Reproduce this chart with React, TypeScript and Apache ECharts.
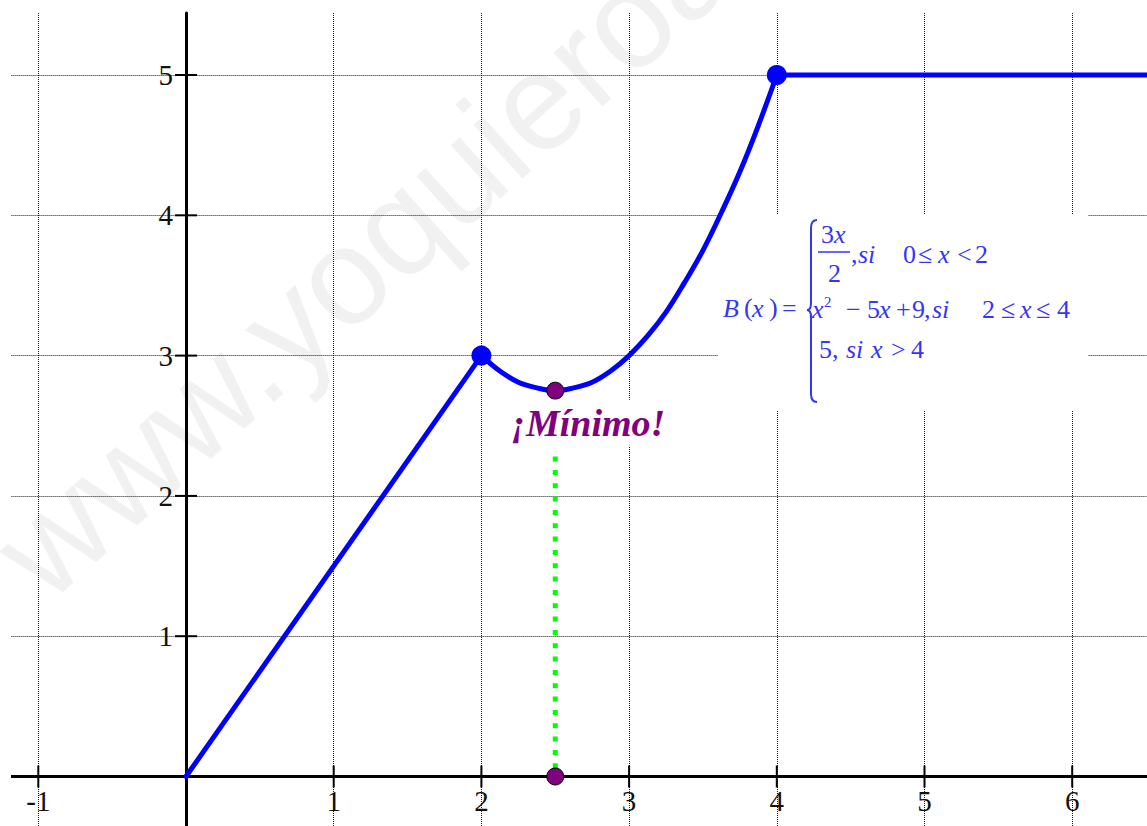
import React, { useEffect, useRef } from "react";
import * as echarts from "echarts";

// ---------- data ----------
const xTicks = [-1, 1, 2, 3, 4, 5, 6];
const yTicks = [1, 2, 3, 4, 5];
const xTickLabels = ["-1", "1", "2", "3", "4", "5", "6"];
const yTickLabels = ["1", "2", "3", "4", "5"];

// B(x), piece by piece
const linearPiece: number[][] = [
  [0, 0],
  [2, 3],
];
const quadraticPiece: number[][] = [
  [2, 3],
  [2.125, 2.89],
  [2.25, 2.81],
  [2.375, 2.77],
  [2.5, 2.75],
  [2.625, 2.77],
  [2.75, 2.81],
  [2.875, 2.89],
  [3, 3],
  [3.125, 3.14],
  [3.25, 3.31],
  [3.375, 3.52],
  [3.5, 3.75],
  [3.625, 4.02],
  [3.75, 4.31],
  [3.875, 4.64],
  [4, 5],
];
const constantPiece: number[][] = [
  [4, 5],
  [7, 5],
];
const closedDots: number[][] = [
  [2, 3],
  [4, 5],
];
const minimumPoints: number[][] = [
  [2.5, 2.75],
  [2.5, 0],
];
const minimumGuide: number[][] = [
  [2.5, 2.28],
  [2.5, 0],
];
const minimumLabel = "¡Mínimo!";
const watermarkText = "www.yoquieroaprobar.es";

// ---------- styling / layout ----------
const SERIF = "'Liberation Serif', 'Times New Roman', serif";
const SANS = "'Liberation Sans', Arial, sans-serif";
const FORMULA_BLUE = "#3535f5";
const CURVE_BLUE = "#0000ff";

// formula pieces: [text, left x, center y, kind]  (n = upright, i = italic, s = superscript)
const formulaPieces: [string, number, number, string][] = [
  ["B", 723, 308, "i"],
  ["(", 744, 307, "n"],
  ["x", 752, 308, "i"],
  [")", 769, 307, "n"],
  ["=", 782, 308, "n"],
  ["3", 821, 234, "n"],
  ["x", 834, 234, "i"],
  ["2", 828, 273, "n"],
  [",", 851, 254, "n"],
  ["si", 858, 254, "i"],
  ["0", 903, 254, "n"],
  ["≤", 918, 254, "n"],
  ["x", 938, 254, "i"],
  ["<", 957, 254, "n"],
  ["2", 975, 254, "n"],
  ["x", 812, 309, "i"],
  ["2", 824, 302, "s"],
  ["−", 846, 309, "n"],
  ["5", 867, 309, "n"],
  ["x", 879, 309, "i"],
  ["+", 896, 309, "n"],
  ["9", 912, 309, "n"],
  [",", 924, 309, "n"],
  ["si", 932, 309, "i"],
  ["2", 982, 309, "n"],
  ["≤", 1001, 309, "n"],
  ["x", 1020, 309, "i"],
  ["≤", 1036, 309, "n"],
  ["4", 1057, 309, "n"],
  ["5", 819, 349, "n"],
  [",", 832, 349, "n"],
  ["si", 846, 349, "i"],
  ["x", 871, 349, "i"],
  [">", 891, 349, "n"],
  ["4", 911, 349, "n"],
];

echarts.graphic.registerShape(
  "brace",
  echarts.graphic.extendPath(
    "M10,0 Q4,0 4,8 L4,83 Q4,90 0,90 Q4,90 4,97 L4,174 Q4,182 10,182",
    {}
  )
);

const tickLabelStyle = {
  show: true,
  fontFamily: SERIF,
  fontSize: 29,
  color: "#111111",
  opacity: 1,
};

export default function App() {
  const ref = useRef<HTMLDivElement>(null);

  useEffect(() => {
    if (!ref.current) return;
    const chart = echarts.init(ref.current, null, { renderer: "svg" });

    const formulaGraphics = formulaPieces.map(([t, x, y, k]) => ({
      type: "text",
      x,
      y,
      z: 20,
      silent: true,
      style: {
        text: t,
        fontFamily: SERIF,
        fontSize: k === "s" ? 15 : 26,
        fontStyle: k === "i" ? "italic" : "normal",
        fill: FORMULA_BLUE,
        align: "left",
        verticalAlign: "middle",
        textAlign: "left",
        textVerticalAlign: "middle",
      },
    }));

    const gridLine = { color: "#1a1a1a", width: 1, type: [1, 1] };
    const curveLine = { color: CURVE_BLUE, width: 5, join: "round", cap: "round" };

    const option: any = {
      animation: false,
      backgroundColor: "#ffffff",
      grid: {
        left: -109.4,
        right: -72.9,
        top: 13,
        bottom: -90.8,
        containLabel: false,
        outerBoundsMode: "none",
      },
      xAxis: {
        type: "value",
        min: -2,
        max: 7,
        interval: 1,
        z: 0,
        axisLine: { onZero: true, lineStyle: { color: "#000", width: 3 } },
        axisTick: { show: false },
        axisLabel: { show: false },
        splitLine: { show: true, lineStyle: gridLine },
      },
      yAxis: {
        type: "value",
        min: -1,
        max: 5.442,
        interval: 1,
        z: 0,
        axisLine: { onZero: true, lineStyle: { color: "#000", width: 3 } },
        axisTick: { show: false },
        axisLabel: { show: false },
        splitLine: { show: true, showMaxLine: false, lineStyle: gridLine },
      },
      graphic: [
        {
          type: "rect",
          z: 1,
          silent: true,
          shape: { x: 0, y: 0, width: 11, height: 826 },
          style: { fill: "#ffffff" },
        },
        {
          type: "rect",
          z: 1,
          silent: true,
          shape: { x: 718, y: 214, width: 370, height: 196 },
          style: { fill: "#ffffff" },
        },
        {
          type: "brace",
          x: 807,
          y: 220,
          z: 20,
          silent: true,
          style: { fill: "none", stroke: FORMULA_BLUE, lineWidth: 2 },
        },
        {
          type: "line",
          z: 20,
          silent: true,
          shape: { x1: 818, y1: 252, x2: 850, y2: 252 },
          style: { stroke: FORMULA_BLUE, lineWidth: 1.5 },
        },
        ...formulaGraphics,
        {
          type: "text",
          x: 16,
          y: 570,
          rotation: (42 * Math.PI) / 180,
          z: 100,
          silent: true,
          style: {
            text: watermarkText,
            fontFamily: SANS,
            fontSize: 138,
            fill: "rgba(0,0,0,0.055)",
            align: "left",
            verticalAlign: "middle",
            textAlign: "left",
            textVerticalAlign: "middle",
          },
        },
      ],
      series: [
        {
          type: "line",
          data: minimumGuide,
          z: 2,
          silent: true,
          symbol: "none",
          lineStyle: { color: "#00ff00", width: 5, type: [5, 8.33], cap: "butt" },
        },
        {
          type: "line",
          data: linearPiece,
          z: 3,
          silent: true,
          symbol: "none",
          lineStyle: curveLine,
        },
        {
          type: "line",
          data: quadraticPiece,
          z: 3,
          silent: true,
          symbol: "none",
          smooth: 0.4,
          lineStyle: curveLine,
        },
        {
          type: "line",
          data: constantPiece,
          z: 3,
          silent: true,
          symbol: "none",
          lineStyle: curveLine,
        },
        {
          type: "scatter",
          data: xTicks.map((v) => [v, 0]),
          z: 3,
          silent: true,
          symbol: "rect",
          symbolSize: [2, 22],
          itemStyle: { color: "#000", opacity: 1 },
          label: {
            ...tickLabelStyle,
            position: "inside",
            offset: [0, 24.5],
            align: "center",
            verticalAlign: "middle",
            formatter: (p: any) => xTickLabels[p.dataIndex],
          },
        },
        {
          type: "scatter",
          data: yTicks.map((v) => [0, v]),
          z: 3,
          silent: true,
          symbol: "rect",
          symbolSize: [22, 2],
          itemStyle: { color: "#000", opacity: 1 },
          label: {
            ...tickLabelStyle,
            position: "inside",
            offset: [-13, 0],
            align: "right",
            verticalAlign: "middle",
            formatter: (p: any) => yTickLabels[p.dataIndex],
          },
        },
        {
          type: "scatter",
          data: closedDots,
          z: 4,
          silent: true,
          symbol: "circle",
          symbolSize: 20,
          itemStyle: { color: CURVE_BLUE, opacity: 1 },
        },
        {
          type: "scatter",
          data: minimumPoints,
          z: 5,
          silent: true,
          symbol: "circle",
          symbolSize: 17,
          itemStyle: { color: "#800080", borderColor: "#000", borderWidth: 1, opacity: 1 },
          label: {
            show: true,
            position: "inside",
            offset: [33, 32],
            formatter: (p: any) => (p.dataIndex === 0 ? minimumLabel : ""),
            fontFamily: SERIF,
            fontStyle: "italic",
            fontWeight: "bold",
            fontSize: 38,
            color: "#800080",
            opacity: 1,
            backgroundColor: "#ffffff",
            padding: [2, 3, 6, 3],
          },
        },
      ],
    };

    chart.setOption(option);
    return () => chart.dispose();
  }, []);

  return (
    <div
      ref={ref}
      style={{ position: "absolute", left: 0, top: 0, width: 1147, height: 826 }}
    />
  );
}
